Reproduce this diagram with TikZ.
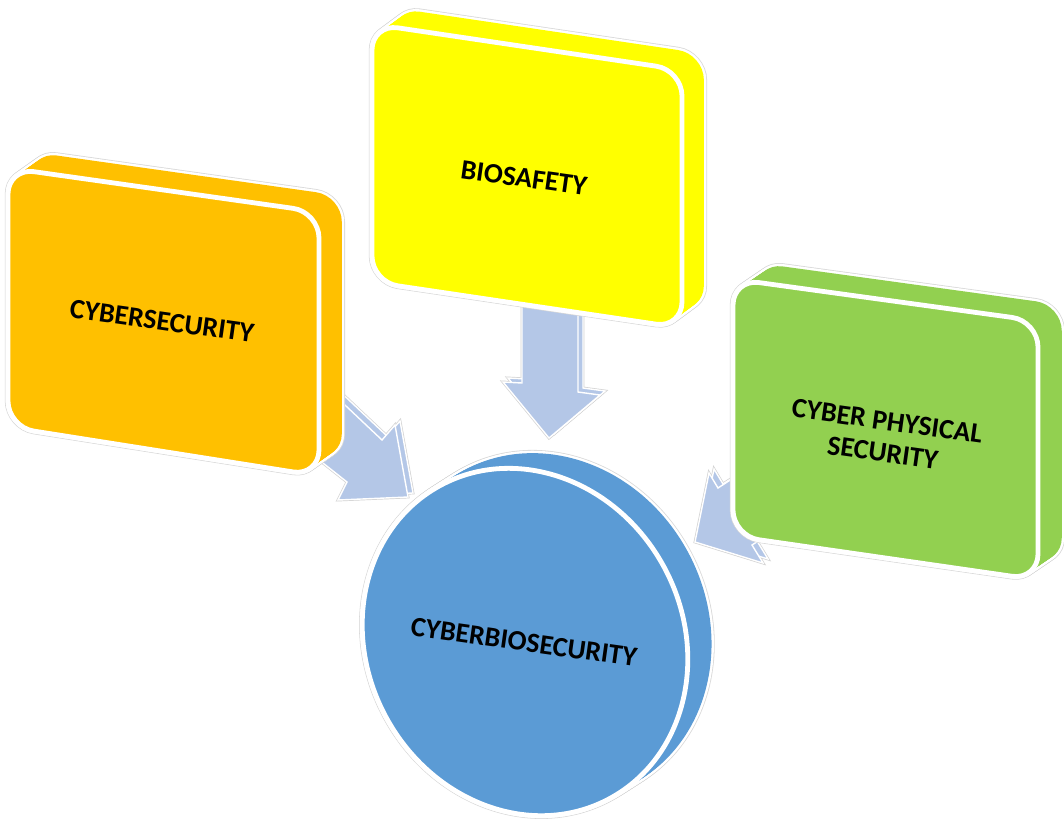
\documentclass[tikz,border=0pt]{standalone}
\usepackage{fontspec}
\setmainfont{Carlito}
\definecolor{csorange}{HTML}{FFC000}
\definecolor{bsyellow}{HTML}{FFFF00}
\definecolor{cpsgreen}{HTML}{92D050}
\definecolor{cbsblue}{HTML}{5B9BD5}
\definecolor{arrowblue}{HTML}{B4C7E7}
% extruded slab: #1 colour, #2 extra options, #3 face path, #4/#5 depth
\newcommand{\slab}[5]{%
  \foreach \t in {0,0.05,...,1}
    \draw[halo, shift={(\t*#4,\t*#5)}, #2] #3;
  \foreach \t in {0,0.05,...,1}
    \draw[rim, shift={(\t*#4,\t*#5)}, #2] #3;
  \foreach \t in {0,0.05,...,1}
    \fill[#1, shift={(\t*#4,\t*#5)}, #2] #3;
  \filldraw[fill=#1, rim, #2] #3;}
% fat arrow with a thin side
\newcommand{\fatarrow}[1]{%
  \draw[arrowhalo, shift={(5,-4)}] #1;
  \draw[arrowhalo] #1;
  \filldraw[arrowbody, shift={(5,-4)}] #1;
  \filldraw[arrowbody] #1;}
\begin{document}
\begin{tikzpicture}[x=0.5pt,y=-0.5pt,
  every node/.style={font=\fontsize{14}{16}\selectfont\bfseries,rotate=-8,align=center},
  halo/.style={draw=gray!30,line width=3.2pt},
  rim/.style={draw=white,line width=2.4pt},
  arrowhalo/.style={draw=gray!35,line width=1.4pt},
  arrowbody/.style={fill=arrowblue,draw=white,line width=0.7pt}]
  \useasboundingbox (0,0) rectangle (1064,820);
  % arrows go underneath
  \fatarrow{(310,372) -- (382,440) -- (395,425) -- (408,497) -- (338,500) -- (347,482) -- (290,437) -- cycle}
  \fatarrow{(522,300) -- (522,383) -- (503,382) -- (549,438) -- (600,395) -- (578,392) -- (578,300) -- cycle}
  \fatarrow{(770,454) -- (718,488) -- (709,473) -- (695,542) -- (763,563) -- (752,545) -- (800,514) -- cycle}
  % centre disc
  \slab{cbsblue}{rotate around={28.5:(525,642)}}{(525,642) ellipse [x radius=158,y radius=178]}{25}{-16}
  % the three blocks
  \slab{csorange}{rounded corners=13pt}{(8,168) -- (319,212) -- (319,476) -- (8,427) -- cycle}{24}{-17}
  \slab{bsyellow}{rounded corners=13pt}{(372,24) -- (682,70) -- (682,328) -- (372,282) -- cycle}{23}{-17}
  \slab{cpsgreen}{rounded corners=13pt}{(733,279) -- (1038,321) -- (1038,580) -- (733,536) -- cycle}{25}{-17}
  \node (cs) at (162,321) {CYBERSECURITY};
  \node (bs) at (524,178) {BIOSAFETY};
  \node (cps) at (885,437) {CYBER PHYSICAL\\SECURITY};
  \node (cbs) at (524,642) {CYBERBIOSECURITY};
\end{tikzpicture}
\end{document}
